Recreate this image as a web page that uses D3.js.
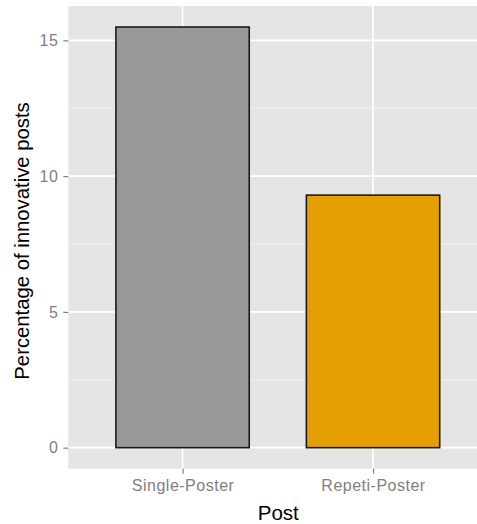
<!DOCTYPE html>
<html><head><meta charset="utf-8">
<script src="https://cdn.jsdelivr.net/npm/d3@7"></script>
<style>html,body{margin:0;padding:0;background:#fff;overflow:hidden}</style>
</head><body>
<svg id="c" width="477" height="524"></svg>
<script>
const categories = ["Single-Poster", "Repeti-Poster"];
const values = [15.49, 9.3];
const barColors = ["#999999", "#E69F00"];
const yTicks = [0, 5, 10, 15];
const yMinorTicks = [2.5, 7.5, 12.5];

const svg = d3.select("#c");
const P = {left: 68.3, right: 487.3, top: 6, bottom: 468.7};
const font = "'Liberation Sans', Arial, sans-serif";

const vmax = d3.max(values);
const y = d3.scaleLinear().domain([-0.05 * vmax, vmax * 1.05]).range([P.bottom, P.top]);
const x = d3.scalePoint().domain(categories).range([P.left, P.right]).padding(0.6);
const bw = x.step() * 0.7;

svg.append("rect").attr("x", P.left).attr("y", P.top)
  .attr("width", P.right - P.left).attr("height", P.bottom - P.top).attr("fill", "#E5E5E5");

const g = svg.append("g");
g.selectAll(".minor").data(yMinorTicks).join("line")
  .attr("x1", P.left).attr("x2", P.right)
  .attr("y1", d => y(d)).attr("y2", d => y(d))
  .attr("stroke", "#F2F2F2").attr("stroke-width", 1);
g.selectAll(".majy").data(yTicks).join("line")
  .attr("x1", P.left).attr("x2", P.right)
  .attr("y1", d => y(d)).attr("y2", d => y(d))
  .attr("stroke", "#FFFFFF").attr("stroke-width", 1.6);
g.selectAll(".majx").data(categories).join("line")
  .attr("y1", P.top).attr("y2", P.bottom)
  .attr("x1", d => x(d)).attr("x2", d => x(d))
  .attr("stroke", "#FFFFFF").attr("stroke-width", 1.6);

svg.selectAll(".bar").data(categories).join("rect")
  .attr("x", d => x(d) - bw / 2)
  .attr("width", bw)
  .attr("y", (d, i) => y(values[i]))
  .attr("height", (d, i) => y(0) - y(values[i]))
  .attr("fill", (d, i) => barColors[i])
  .attr("stroke", "#1a1a1a").attr("stroke-width", 1.6);

// axes
const yAxis = d3.axisLeft(y).tickValues(yTicks).tickSize(5).tickPadding(5);
const ya = svg.append("g").attr("transform", `translate(${P.left},0)`).call(yAxis);
ya.select(".domain").remove();
ya.selectAll("line").attr("stroke", "#7F7F7F").attr("stroke-width", 1.2);
ya.selectAll("text").attr("fill", "#7F7F7F").style("font-family", font)
  .style("font-size", "16px").style("letter-spacing", "0.5px");

const xAxis = d3.axisBottom(x).tickSize(5).tickPadding(6);
const xa = svg.append("g").attr("transform", `translate(0,${P.bottom})`).call(xAxis);
xa.select(".domain").remove();
xa.selectAll("line").attr("stroke", "#7F7F7F").attr("stroke-width", 1.2);
xa.selectAll("text").attr("fill", "#7F7F7F").style("font-family", font)
  .style("font-size", "16px").style("letter-spacing", "0.5px");

svg.append("text").attr("x", 278.3).attr("y", 520)
  .attr("text-anchor", "middle").style("font-family", font).style("font-size", "20.5px")
  .attr("fill", "#000").text("Post");
svg.append("text").attr("transform", "translate(29,241) rotate(-90)")
  .attr("text-anchor", "middle").style("font-family", font).style("font-size", "20.3px")
  .attr("fill", "#000").text("Percentage of innovative posts");
</script>
</body></html>
